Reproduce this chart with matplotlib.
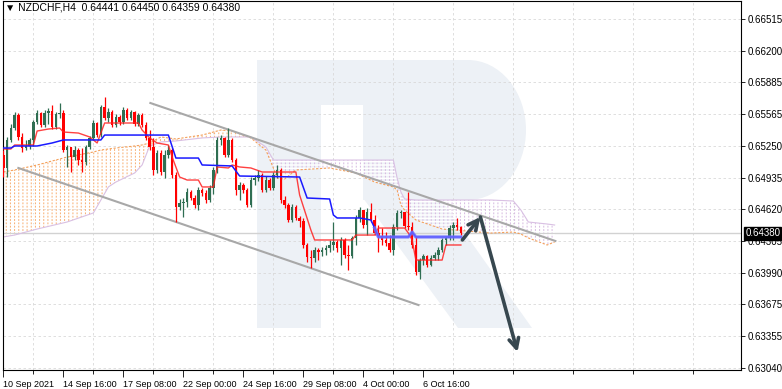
import numpy as np
import matplotlib
matplotlib.use("Agg")
import matplotlib.pyplot as plt
from matplotlib.patches import Polygon, Rectangle, Ellipse

plt.rcParams["font.family"] = ["Liberation Sans", "DejaVu Sans"]

# ---- data (NZDCHF H4) ----
date_labels = ["10 Sep 2021", "14 Sep 16:00", "17 Sep 08:00", "22 Sep 00:00",
               "24 Sep 16:00", "29 Sep 08:00", "4 Oct 00:00", "6 Oct 16:00"]
y_ticks = [0.66515, 0.66200, 0.65885, 0.65565, 0.65250, 0.64935,
           0.64620, 0.64305, 0.63990, 0.63675, 0.63355, 0.63040]

first_open = 0.65160
closes = [0.65031, 0.65310, 0.65429, 0.65559, 0.65340, 0.65230, 0.65250, 0.65310, 0.65489, 0.65579,
          0.65459, 0.65579, 0.65598, 0.65439, 0.65569, 0.65579, 0.65210, 0.65240, 0.65140, 0.65210,
          0.65110, 0.65091, 0.65240, 0.65330, 0.65479, 0.65359, 0.65638, 0.65529, 0.65589, 0.65459,
          0.65539, 0.65489, 0.65608, 0.65529, 0.65589, 0.65469, 0.65559, 0.65459, 0.65330, 0.65240,
          0.65011, 0.65180, 0.64991, 0.65160, 0.65210, 0.64961, 0.64642, 0.64682, 0.64692, 0.64792,
          0.64732, 0.64662, 0.64812, 0.64782, 0.64712, 0.64832, 0.65011, 0.65310, 0.65330, 0.65160,
          0.65310, 0.65110, 0.64812, 0.64861, 0.64812, 0.64662, 0.64911, 0.64931, 0.64961, 0.64812,
          0.64911, 0.64832, 0.64961, 0.65011, 0.64712, 0.64662, 0.64513, 0.64642, 0.64533, 0.64503,
          0.64264, 0.64144, 0.64134, 0.64214, 0.64194, 0.64214, 0.64234, 0.64264, 0.64294, 0.64234,
          0.64314, 0.64164, 0.64154, 0.64334, 0.64533, 0.64612, 0.64463, 0.64593, 0.64513, 0.64383,
          0.64353, 0.64314, 0.64284, 0.64214, 0.64443, 0.64583, 0.64593, 0.64453, 0.64443, 0.64264,
          0.63995, 0.64114, 0.64154, 0.64065, 0.64134, 0.64164, 0.64214, 0.64314, 0.64334, 0.64433,
          0.64463, 0.64441, 0.64380]
highs = [0.65210, 0.65340, 0.65469, 0.65589, 0.65579, 0.65379, 0.65310, 0.65330, 0.65509, 0.65608,
         0.65589, 0.65608, 0.65628, 0.65658, 0.65589, 0.65678, 0.65608, 0.65260, 0.65240, 0.65250,
         0.65230, 0.65230, 0.65260, 0.65349, 0.65509, 0.65489, 0.65658, 0.65738, 0.65628, 0.65608,
         0.65569, 0.65559, 0.65638, 0.65628, 0.65608, 0.65598, 0.65579, 0.65579, 0.65489, 0.65409,
         0.65330, 0.65210, 0.65210, 0.65210, 0.65260, 0.65230, 0.64991, 0.64722, 0.64732, 0.64832,
         0.64812, 0.64762, 0.64842, 0.64832, 0.64812, 0.64861, 0.65041, 0.65340, 0.65359, 0.65340,
         0.65429, 0.65330, 0.65130, 0.64891, 0.64881, 0.64832, 0.64941, 0.64961, 0.65011, 0.64981,
         0.64951, 0.64931, 0.64991, 0.65061, 0.65031, 0.64752, 0.64682, 0.64672, 0.64662, 0.64553,
         0.64533, 0.64284, 0.64214, 0.64244, 0.64234, 0.64244, 0.64264, 0.64314, 0.64493, 0.64314,
         0.64344, 0.64334, 0.64264, 0.64353, 0.64563, 0.64642, 0.64612, 0.64632, 0.64682, 0.64563,
         0.64463, 0.64433, 0.64393, 0.64363, 0.64473, 0.64612, 0.64612, 0.64593, 0.64792, 0.64493,
         0.64344, 0.64134, 0.64174, 0.64164, 0.64164, 0.64194, 0.64244, 0.64334, 0.64353, 0.64463,
         0.64493, 0.64533, 0.64450]
lows = [0.64941, 0.64941, 0.65290, 0.65409, 0.65310, 0.65190, 0.65210, 0.65220, 0.65250, 0.65469,
        0.65439, 0.65439, 0.65469, 0.65419, 0.65419, 0.65529, 0.65190, 0.65041, 0.64991, 0.65110,
        0.65061, 0.64991, 0.65061, 0.65220, 0.65310, 0.65340, 0.65340, 0.65509, 0.65489, 0.65439,
        0.65439, 0.65459, 0.65469, 0.65509, 0.65509, 0.65449, 0.65449, 0.65439, 0.65310, 0.65210,
        0.64961, 0.64981, 0.64961, 0.64931, 0.65130, 0.64931, 0.64493, 0.64612, 0.64543, 0.64642,
        0.64712, 0.64632, 0.64612, 0.64752, 0.64682, 0.64692, 0.64772, 0.64981, 0.65260, 0.65140,
        0.65140, 0.65091, 0.64762, 0.64712, 0.64782, 0.64642, 0.64642, 0.64861, 0.64901, 0.64792,
        0.64792, 0.64812, 0.64812, 0.64931, 0.64682, 0.64632, 0.64493, 0.64493, 0.64513, 0.64443,
        0.64234, 0.64095, 0.64035, 0.64095, 0.64114, 0.64154, 0.64164, 0.64194, 0.64214, 0.64194,
        0.64065, 0.64134, 0.64015, 0.64134, 0.64264, 0.64493, 0.64433, 0.64363, 0.64493, 0.64363,
        0.64194, 0.64264, 0.64254, 0.64194, 0.64164, 0.64413, 0.64533, 0.64433, 0.64413, 0.64234,
        0.63965, 0.63925, 0.64065, 0.64045, 0.64055, 0.64114, 0.64114, 0.64194, 0.64264, 0.64314,
        0.64314, 0.64413, 0.64359]

# Ichimoku lines (bar index, price)
tenkan_idx = [0, 2, 3, 8, 9, 12, 15, 16, 20, 23, 25, 27, 36, 37, 39, 41, 44, 45, 47, 49, 52, 53,
              56, 57, 60, 61, 63, 66, 69, 78, 79, 82, 83, 93, 94, 99, 100, 107, 108, 109, 110,
              117, 118, 122]
tenkan = [0.65220, 0.65220, 0.65260, 0.65260, 0.65399, 0.65419, 0.65429, 0.65389, 0.65379, 0.65340,
          0.65280, 0.65479, 0.65479, 0.65409, 0.65330, 0.65280, 0.65260, 0.65140, 0.64941, 0.64911,
          0.64911, 0.64842, 0.64842, 0.65041, 0.65031, 0.65061, 0.65041, 0.65031, 0.64991, 0.64991,
          0.64762, 0.64413, 0.64314, 0.64314, 0.64363, 0.64363, 0.64433, 0.64433, 0.64383, 0.64314,
          0.64114, 0.64114, 0.64264, 0.64264]
kijun_idx = [0, 2, 3, 9, 13, 16, 26, 27, 44, 46, 52, 53, 61, 63, 79, 81, 87, 88, 89, 95, 98, 99,
             100, 108, 109, 110, 122]
kijun = [0.65230, 0.65230, 0.65250, 0.65250, 0.65280, 0.65310, 0.65310, 0.65359, 0.65359, 0.65130,
         0.65130, 0.65061, 0.65051, 0.64951, 0.64941, 0.64732, 0.64722, 0.64563, 0.64533, 0.64533,
         0.64513, 0.64433, 0.64344, 0.64344, 0.64393, 0.64344, 0.64344]

cloud_idx = [0, 3, 9, 17, 24, 26, 28, 30, 35, 37, 39, 42, 46, 53, 58, 61, 66, 70, 72, 73, 75, 78,
             87, 94, 99, 104, 105, 106, 107, 110, 117, 130, 136, 138, 140, 145, 147]
span_a = [0.64991, 0.65011, 0.65061, 0.65140, 0.65190, 0.65210, 0.65220, 0.65230, 0.65250, 0.65260,
          0.65280, 0.65340, 0.65320, 0.65359, 0.65409, 0.65399, 0.65330, 0.65210, 0.65031, 0.64931,
          0.64921, 0.65011, 0.65031, 0.64981, 0.64891, 0.64842, 0.64812, 0.64662, 0.64612, 0.64513,
          0.64423, 0.64383, 0.64393, 0.64373, 0.64334, 0.64264, 0.64294]
span_b = [0.64344, 0.64363, 0.64423, 0.64493, 0.64583, 0.64712, 0.64842, 0.64891, 0.64981, 0.65061,
          0.65250, 0.65290, 0.65300, 0.65330, 0.65340, 0.65340, 0.65340, 0.65240, 0.65110, 0.65110,
          0.65110, 0.65110, 0.65110, 0.65110, 0.65110, 0.65110, 0.64931, 0.64792, 0.64722, 0.64712,
          0.64712, 0.64712, 0.64702, 0.64612, 0.64493, 0.64473, 0.64463]

# trend channel and forecast arrow
channel_upper = ([39.2, 147.2], [0.65678, 0.64304])
channel_lower = ([4.0, 110.7], [0.65031, 0.63666])
arrow_path = ([122.4, 127.2, 137.1], [0.64314, 0.64543, 0.63198])

last_price = 0.64380
header = "\u25BC NZDCHF,H4  0.64441 0.64450 0.64359 0.64380"

# ---- figure ----
W, H = 782, 389
fig = plt.figure(figsize=(W / 100, H / 100), dpi=100)
fig.patch.set_facecolor("white")


def fpx(x, y):
    return x / W, 1 - y / H


# watermark "R" (drawn behind the axes)
wm = "#edf1f6"
wm_patches = [
    Rectangle(fpx(257, 328), 64 / W, 268 / H),
    Rectangle(fpx(321, 105), 150 / W, 45 / H),
    Rectangle(fpx(363, 200), 108 / W, 140 / H),
    Ellipse(fpx(468, 130), 2 * 58 / W, 140 / H),
    Polygon([fpx(363, 198), fpx(440, 198), fpx(532, 328), fpx(458, 328)]),
]
for p in wm_patches:
    p.set_transform(fig.transFigure)
    p.set_facecolor(wm)
    p.set_edgecolor("none")
    p.set_zorder(-5)
    fig.patches.append(p)

ax = fig.add_axes([3 / W, 19 / H, 738 / W, 369 / H])
ax.patch.set_alpha(0)
ax.set_xlim(-0.1, 196.7)
ax.set_ylim(0.63019, 0.66694)

# grid
for yt in y_ticks:
    ax.axhline(yt, color="#d9d9d9", lw=0.6, ls=(0, (3, 3)), zorder=0)
for gx in range(8, 197, 16):
    ax.axvline(gx, color="#d9d9d9", lw=0.6, ls=(0, (3, 3)), zorder=0)

# cloud: vertical hatch broken into dashes by a white horizontal hatch
ci = np.array(cloud_idx, dtype=float)
sa = np.array(span_a)
sb = np.array(span_b)
plt.rcParams["hatch.linewidth"] = 0.7
ax.fill_between(ci, sa, sb, where=sa >= sb, interpolate=True, facecolor="none",
                edgecolor="#f7ad6e", hatch="||||", lw=0, zorder=1)
ax.fill_between(ci, sa, sb, where=sa <= sb, interpolate=True, facecolor="none",
                edgecolor="#d6b8e0", hatch="||||", lw=0, zorder=1)
plt.rcParams["hatch.linewidth"] = 1.1
ax.fill_between(ci, sa, sb, interpolate=True, facecolor="none",
                edgecolor="white", hatch="-----", lw=0, zorder=1.2)
ax.plot(ci, sa, color="#f4a05a", lw=0.8, ls=(0, (2, 1.5)), zorder=2)
ax.plot(ci, sb, color="#d9c0e3", lw=0.8, zorder=2)

# channel
ax.plot(*channel_upper, color="#a8a8a8", lw=1.5, zorder=3)
ax.plot(*channel_lower, color="#a8a8a8", lw=1.5, zorder=3)

# last price line
ax.axhline(last_price, color="#d2d2d2", lw=1, zorder=1)

# candles
c = np.array(closes)
o = np.concatenate([[first_open], c[:-1]])
h = np.array(highs)
l = np.array(lows)
idx = np.arange(len(c))
up = c >= o
green, red = "#2f6e52", "#ff0000"
cols = np.where(up, green, red)
ax.vlines(idx, l, h, colors=cols, lw=0.9, zorder=4)
body_bottom = np.minimum(o, c)
body_h = np.maximum(np.abs(c - o), 0.00003)
ax.bar(idx, body_h, bottom=body_bottom, width=0.7, color=cols, lw=0, zorder=5)

# tenkan / kijun
ax.plot(tenkan_idx, tenkan, color="#ff2020", lw=1.0, alpha=0.85, zorder=6)
ax.plot(kijun_idx, kijun, color="#1a1aff", lw=1.1, zorder=6)
ax.plot(kijun_idx[-6:], kijun[-6:], color="#6f6fff", lw=2.4, alpha=0.8, zorder=6)

# forecast arrow
ax_x, ax_y = arrow_path
arrow_kw = dict(arrowstyle="->,head_length=0.7,head_width=0.35", color="#37474f", lw=2.6,
                shrinkA=0, shrinkB=0)
ax.annotate("", xy=(ax_x[1], ax_y[1]), xytext=(ax_x[0], ax_y[0]), arrowprops=arrow_kw, zorder=8)
ax.annotate("", xy=(ax_x[2], ax_y[2]), xytext=(ax_x[1], ax_y[1]), arrowprops=arrow_kw, zorder=8)

# axes styling
for s in ["top", "left", "bottom", "right"]:
    ax.spines[s].set_color("black")
    ax.spines[s].set_linewidth(0.8)
ax.yaxis.tick_right()
ax.set_yticks(y_ticks)
ax.set_yticklabels([f"{v:.5f}" for v in y_ticks], fontsize=7)
ax.tick_params(axis="y", length=3, width=0.6, pad=1.5)
ax.set_xticks(range(0, 16 * len(date_labels), 16))
ax.set_xticklabels(date_labels, fontsize=6.5, ha="left")
ax.set_xticks(range(8, 197, 16), minor=True)
ax.tick_params(axis="x", which="major", length=5, width=0.6, pad=2)
ax.tick_params(axis="x", which="minor", length=3, width=0.6)

# last price tag
ax.annotate(f"{last_price:.5f}", xy=(1.0, last_price), xycoords=("axes fraction", "data"),
            xytext=(3, 0), textcoords="offset points", va="center", ha="left",
            fontsize=7, color="white",
            bbox=dict(boxstyle="square,pad=0.12", fc="black", ec="black"), zorder=10,
            annotation_clip=False)

fig.text(5 / W, 1 - 8 / H, header, fontsize=7.5, va="center", ha="left")

fig.savefig("out.png", dpi=100)
